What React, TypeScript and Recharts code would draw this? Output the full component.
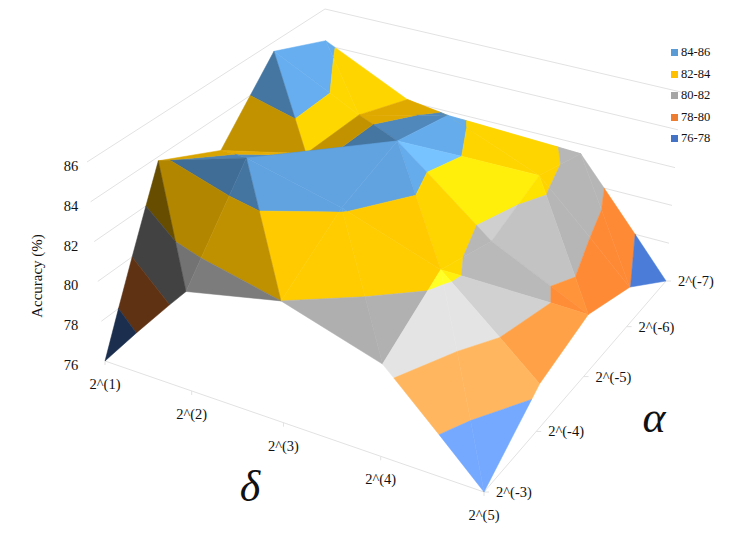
import React from 'react'
import { ScatterChart, Scatter, XAxis, YAxis } from 'recharts'

const deltaLabels = ['2^(1)', '2^(2)', '2^(3)', '2^(4)', '2^(5)']
const alphaLabels = ['2^(-3)', '2^(-4)', '2^(-5)', '2^(-6)', '2^(-7)']
const accuracyTicks = [76, 78, 80, 82, 84, 86]

// accuracy at each delta, one list per alpha
const accAlpha3 = [76, 80.95, 82, 80.5, 76]
const accAlpha4 = [83.8, 85.25, 84.1, 82.45, 78.35]
const accAlpha5 = [82.2, 83.27, 85.2, 81.4, 79.13]
const accAlpha6 = [85.5, 83.23, 84.4, 82.5, 78.04]
const accAlpha7 = [84.25, 82.1, 81, 81.5, 76]
const accuracy = [accAlpha3, accAlpha4, accAlpha5, accAlpha6, accAlpha7]

const bandNames = ['84-86', '82-84', '80-82', '78-80', '76-78']
const bandFloors = [84, 82, 80, 78, 76]
const bandColors = ['#5B9BD5', '#FFC000', '#A5A5A5', '#ED7D31', '#4472C4']

// how each grid cell is folded and lit: [use other diagonal, front shade, back shade]
const cellLook: Record<string, [boolean, number, number]> = {
  '0,0': [false, 0.4, 0.7], '1,0': [false, 0.75, 1.05], '2,0': [false, 1.06, 1.07], '3,0': [false, 1.35, 1.35],
  '0,1': [false, 0.85, 0.9], '1,1': [true, 1.05, 0.9], '2,1': [false, 1.05, 1.11], '3,1': [true, 1.25, 1.12],
  '0,2': [false, 0.76, 1.12], '1,2': [false, 0.76, 0.88], '2,2': [true, 1.24, 1.11], '3,2': [false, 1.18, 1.1],
  '0,3': [false, 1.12, 1.11], '1,3': [false, 0.88, 1], '2,3': [true, 1.11, 1.11], '3,3': [false, 1.1, 1.1],
}

// box corners on the page: floor and z=86 top
type Pt = [number, number]
const floorQuad: Pt[] = [[105, 361], [484, 492], [666, 281], [329, 190]]
const topQuad: Pt[] = [[87, 162], [497, 285], [681, 92], [325, 9]]

function homography(q: Pt[]) {
  const [[x0, y0], [x1, y1], [x2, y2], [x3, y3]] = q
  const dx1 = x1 - x2, dx2 = x3 - x2, sx = x0 - x1 + x2 - x3
  const dy1 = y1 - y2, dy2 = y3 - y2, sy = y0 - y1 + y2 - y3
  const den = dx1 * dy2 - dx2 * dy1
  const g = (sx * dy2 - dx2 * sy) / den
  const h = (dx1 * sy - sx * dy1) / den
  return (u: number, v: number): Pt => {
    const w = g * u + h * v + 1
    return [
      ((x1 - x0 + g * x1) * u + (x3 - x0 + h * x3) * v + x0) / w,
      ((y1 - y0 + g * y1) * u + (y3 - y0 + h * y3) * v + y0) / w,
    ]
  }
}
const floorAt = homography(floorQuad)
const topAt = homography(topQuad)

type V = { i: number; j: number; z: number }
function project({ i, j, z }: V) {
  const f = floorAt(i / 4, j / 4)
  const t = topAt(i / 4, j / 4)
  const k = (z - 76) / 10
  return { x: f[0] + (t[0] - f[0]) * k, y: f[1] + (t[1] - f[1]) * k }
}

function clip(poly: V[], level: number, keepAbove: boolean) {
  const out: V[] = []
  const inside = (p: V) => (keepAbove ? p.z >= level : p.z <= level)
  poly.forEach((p, n) => {
    const q = poly[(n + 1) % poly.length]
    if (inside(p)) out.push(p)
    if (inside(p) !== inside(q)) {
      const t = (level - p.z) / (q.z - p.z)
      out.push({ i: p.i + (q.i - p.i) * t, j: p.j + (q.j - p.j) * t, z: level })
    }
  })
  return out
}

// multiply, and wash towards white on the brightest facets
function shade(hex: string, s: number) {
  const n = parseInt(hex.slice(1), 16)
  const wash = Math.max(0, s - 1.2)
  const c = [n >> 16, (n >> 8) & 255, n & 255].map(v => {
    const m = Math.min(255, v * s)
    return Math.round(m + (255 - m) * wash)
  })
  return `rgb(${c[0]},${c[1]},${c[2]})`
}

const vert = (i: number, j: number): V => ({ i, j, z: accuracy[j][i] })

const triangles: { pts: V[]; s: number; depth: number }[] = []
for (let j = 0; j < 4; j++) {
  for (let i = 0; i < 4; i++) {
    const [other, s1, s2] = cellLook[`${i},${j}`]
    const a = vert(i, j), b = vert(i + 1, j), c = vert(i + 1, j + 1), d = vert(i, j + 1)
    const pair = other ? [[a, b, c], [a, c, d]] : [[a, b, d], [b, c, d]]
    pair.forEach((pts, n) => {
      const depth = pts.reduce((sum, p) => sum + floorAt(p.i / 4, p.j / 4)[1], 0)
      triangles.push({ pts, s: n === 0 ? s1 : s2, depth })
    })
  }
}
triangles.sort((p, q) => p.depth - q.depth)

const facets: { data: { x: number; y: number }[]; fill: string }[] = []
triangles.forEach(t => {
  bandFloors.forEach((lo, b) => {
    const piece = clip(clip(t.pts, lo, true), lo + 2, false)
    if (piece.length < 3) return
    const data = piece.map(project)
    facets.push({ data: [...data, data[0]], fill: shade(bandColors[b], t.s) })
  })
})

const gridColor = '#E2E2E2'
const wallLines = accuracyTicks.slice(1).map(z => {
  const at = (i: number, j: number) => project({ i, j, z })
  return [at(0, 0), at(0, 4), at(4, 4)]
})
const frontAxes = [
  [project({ i: 0, j: 0, z: 76 }), project({ i: 4, j: 0, z: 76 }), project({ i: 4, j: 4, z: 76 })],
]
const deltaTicks = deltaLabels.map((label, i) => ({ ...project({ i, j: 0, z: 76 }), label }))
const alphaTicks = alphaLabels.map((label, j) => ({ ...project({ i: 4, j, z: 76 }), label }))
const accTicks = accuracyTicks.map(z => ({ x: 71, y: project({ i: 0, j: 0, z }).y, label: String(z) }))

const serif = '"Liberation Serif", serif'
const noMark = () => <g />

const textMark = (dx: number, dy: number, anchor: string) => (p: any) => (
  <text x={p.cx + dx} y={p.cy + dy} textAnchor={anchor} fontFamily={serif} fontSize={14.5} fill="#111">
    {p.payload.label}
  </text>
)

const tickMark = (dx: number, dy: number) => (p: any) => (
  <line x1={p.cx} y1={p.cy} x2={p.cx + dx} y2={p.cy + dy} stroke={gridColor} />
)

export default function App() {
  return (
    <div style={{ position: 'absolute', left: 0, top: 0, width: 747, height: 539, background: '#fff' }}>
      <ScatterChart width={747} height={539} margin={{ top: 0, right: 0, bottom: 0, left: 0 }}>
        <XAxis type="number" dataKey="x" domain={[0, 747]} hide />
        <YAxis type="number" dataKey="y" domain={[0, 539]} reversed hide />
        {wallLines.map((line, n) => (
          <Scatter key={n} data={line} isAnimationActive={false} shape={noMark} line={{ stroke: gridColor, strokeWidth: 1, fill: 'none' }} />
        ))}
        {frontAxes.map((line, n) => (
          <Scatter key={n} data={line} isAnimationActive={false} shape={noMark} line={{ stroke: gridColor, strokeWidth: 1, fill: 'none' }} />
        ))}
        <Scatter data={deltaTicks} isAnimationActive={false} shape={tickMark(0, 4)} />
        <Scatter data={alphaTicks} isAnimationActive={false} shape={tickMark(5, 0)} />
        {facets.map((f, n) => (
          <Scatter key={n} data={f.data} isAnimationActive={false} shape={noMark} line={{ fill: f.fill, stroke: f.fill, strokeWidth: 0.5 }} />
        ))}
        <Scatter data={deltaTicks} isAnimationActive={false} shape={textMark(0, 28, 'middle')} />
        <Scatter data={alphaTicks} isAnimationActive={false} shape={textMark(12, 5, 'start')} />
        <Scatter data={accTicks} isAnimationActive={false} shape={textMark(0, 9, 'middle')} />
        <text x={0} y={0} transform="translate(42,276) rotate(-90)" textAnchor="middle" fontFamily={serif} fontSize={15} fill="#111">
          Accuracy (%)
        </text>
        <text x={250} y={501} textAnchor="middle" fontFamily={serif} fontStyle="italic" fontSize={44} fill="#111">δ</text>
        <text x={654} y={432} textAnchor="middle" fontFamily={serif} fontStyle="italic" fontSize={44} fill="#111">α</text>
      </ScatterChart>
      <div style={{ position: 'absolute', left: 671, top: 42, fontFamily: serif, fontSize: 12.5, color: '#111' }}>
        {bandNames.map((name, n) => (
          <div key={name} style={{ display: 'flex', alignItems: 'center', height: 21.5 }}>
            <span style={{ width: 7, height: 7, background: bandColors[n], marginRight: 3 }} />
            {name}
          </div>
        ))}
      </div>
    </div>
  )
}
